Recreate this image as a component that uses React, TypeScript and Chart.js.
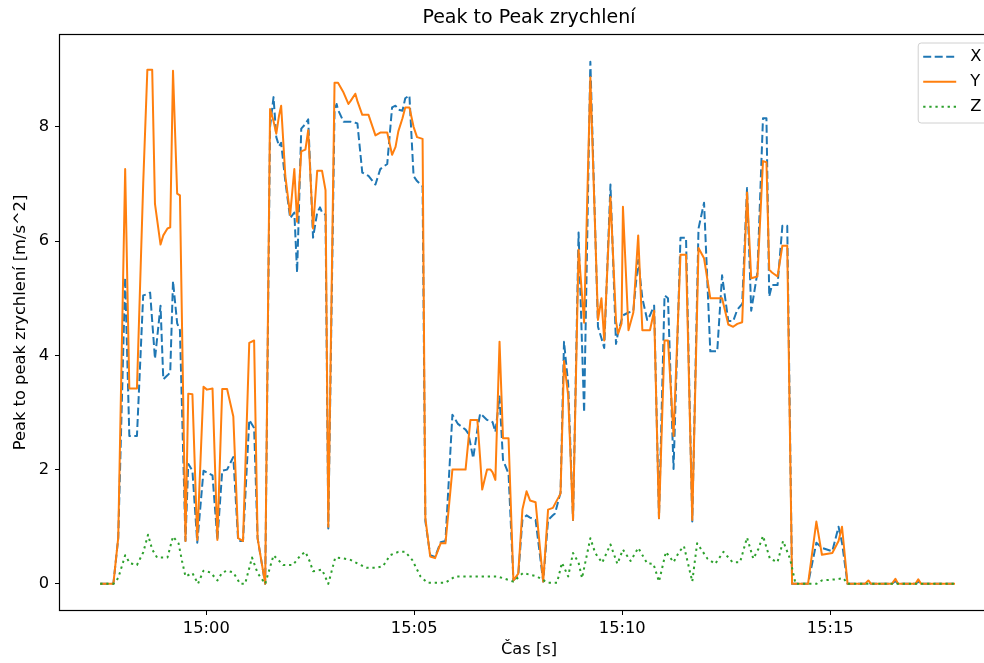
import React, { useEffect, useRef } from "react";
import { Chart, registerables } from "chart.js";

Chart.register(...registerables);

// ---- data (time in seconds relative to 15:00:00) ----
const timeSec = [
  -153, -134, -127, -117, -111, -100, -91, -85, -81, -78, -74, -66, -62, -56, -52, -48, -42, -38,
  -30, -26, -20, -13, -4, 1, 9, 16, 23, 30, 39, 46, 53, 62, 69, 74, 85,
  92, 97, 101, 105, 108, 114, 121, 127, 131, 137, 143, 147, 154, 160, 164, 167, 172, 176,
  185, 188, 190, 198, 205, 208, 215, 218, 225, 234, 244, 251, 261, 268, 273, 277, 283, 287, 293,
  299, 304, 312, 316, 323, 330, 338, 345, 355, 363, 374, 378, 381, 385, 391, 395, 398, 405, 410,
  413, 417, 423, 428, 436, 443, 450, 456, 462, 467, 475, 486, 493, 500, 503, 511, 516, 522, 529,
  537, 545, 554, 565, 570, 574, 583, 591, 594, 599, 601, 609, 616, 623, 629, 636, 640, 646, 653,
  661, 666, 674, 684, 692, 701, 710, 718, 727, 737, 744, 753, 760, 766, 773, 780, 786, 795, 803,
  808, 812, 816, 824, 831, 838, 845, 868, 880, 888, 903, 912, 917, 925, 950, 955, 959, 989, 994,
  998, 1023, 1027, 1031, 1080,
];

const xVals = [
  0, 0, 0.8, 5.36, 2.59, 2.59, 5.05, 5.07, 5.1, 4.6, 3.94, 4.87, 3.58, 3.65, 3.7, 5.3, 4.56, 4.44,
  0.75, 2.1, 1.98, 0.72, 1.98, 1.95, 1.9, 0.77, 1.98, 2.0, 2.22, 0.75, 0.75, 2.87, 2.73, 0.8, 0,
  8.0, 8.52, 7.82, 7.66, 7.72, 7.05, 6.4, 6.5, 5.45, 7.97, 8.05, 8.13, 6.06, 6.5, 6.59, 6.5, 6.46, 0.97,
  8.3, 8.4, 8.3, 8.09, 8.09, 8.09, 8.07, 8.06, 7.2, 7.14, 6.99, 7.26, 7.35, 8.34, 8.37, 8.3, 8.28, 8.5, 8.55,
  7.14, 7.05, 6.96, 1.1, 0.5, 0.47, 0.73, 0.75, 2.96, 2.8, 2.7, 2.63, 2.45, 2.2, 2.7, 2.98, 2.95, 2.87, 2.85,
  2.83, 2.66, 3.28, 2.17, 1.93, 0.06, 0.15, 1.12, 1.2, 1.16, 1.12, 0.04, 1.12, 1.2, 1.23, 1.6, 4.24, 3.5, 1.12,
  6.15, 3.0, 9.14, 4.5, 4.3, 4.13, 6.99, 4.2, 4.4, 4.62, 4.7, 4.75, 4.78, 5.67, 5.0, 4.62, 4.7, 4.87, 1.15,
  5.05, 5.0, 2.01, 6.06, 6.06, 1.09, 6.22, 6.67, 4.07, 4.07, 5.4, 4.6, 4.6, 4.8, 4.9, 6.93, 4.78, 5.45, 8.15,
  8.15, 5.03, 5.23, 5.23, 6.27, 6.27, 0, 0, 0.72, 0.63, 0.57, 1.0, 0.72, 0, 0, 0.02, 0, 0, 0.05,
  0, 0, 0.04, 0, 0,
];

const yVals = [
  0, 0, 0.81, 7.26, 3.42, 3.42, 7.0, 9.0, 9.0, 9.0, 6.65, 5.94, 6.1, 6.22, 6.24, 8.98, 6.83, 6.8,
  0.75, 3.33, 3.32, 0.77, 3.45, 3.4, 3.42, 0.77, 3.41, 3.41, 2.93, 0.8, 0.75, 4.22, 4.26, 0.8, 0,
  8.31, 8.1, 7.88, 8.2, 8.37, 7.14, 6.46, 7.26, 6.34, 7.57, 7.6, 7.94, 6.22, 7.23, 7.23, 7.23, 6.89, 1.0,
  8.77, 8.77, 8.77, 8.6, 8.4, 8.45, 8.58, 8.45, 8.21, 8.21, 7.85, 7.9, 7.9, 7.51, 7.65, 7.92, 8.15, 8.34, 8.34,
  8.0, 7.82, 7.79, 1.15, 0.48, 0.45, 0.71, 0.71, 2.0, 2.0, 2.0, 2.5, 2.87, 2.87, 2.87, 2.2, 1.65, 2.0, 2.0,
  1.95, 1.82, 4.24, 2.55, 2.55, 0.06, 0.18, 1.3, 1.62, 1.46, 1.43, 0.04, 1.3, 1.33, 1.4, 1.58, 3.9, 3.3, 1.12,
  5.85, 4.57, 8.87, 4.62, 5.0, 4.26, 6.77, 4.6, 4.38, 4.56, 6.6, 4.44, 4.75, 6.1, 4.44, 4.44, 4.44, 4.78, 1.15,
  4.26, 4.26, 2.59, 5.76, 5.76, 1.12, 5.88, 5.7, 5.0, 5.0, 5.0, 4.54, 4.5, 4.55, 4.58, 6.85, 5.35, 5.38, 7.4,
  7.38, 5.5, 5.45, 5.38, 5.92, 5.92, 0, 0, 1.09, 0.51, 0.54, 0.75, 1.0, 0, 0, 0.06, 0, 0, 0.09,
  0, 0, 0.08, 0, 0,
];

const zTimeSec = [
  -153, -134, -127, -117, -110, -100, -91, -84, -78, -71, -56, -48, -40, -35, -30, -20, -12, -4, 6,
  16, 23, 30, 39, 49, 56, 66, 74, 85, 97, 111, 125, 136, 143, 149, 154, 167, 176, 186, 196, 208,
  219, 232, 244, 255, 265, 277, 287, 297, 309, 319, 345, 359, 395, 420, 443, 457, 477, 492, 506,
  513, 522, 529, 537, 542, 554, 561, 571, 583, 593, 601, 612, 623, 636, 645, 653, 663, 674, 682,
  689, 701, 708, 723, 734, 746, 759, 770, 780, 789, 796, 803, 813, 824, 832, 842, 850, 880, 888,
  909, 919, 925, 1080,
];

const zVals = [
  0, 0, 0.1, 0.5, 0.36, 0.33, 0.55, 0.86, 0.6, 0.46, 0.46, 0.83, 0.71, 0.4, 0.13, 0.19, 0, 0.23, 0.2,
  0.06, 0.2, 0.23, 0.2, 0, 0, 0.46, 0.19, 0, 0.5, 0.33, 0.33, 0.5, 0.56, 0.4, 0.22, 0.25, 0, 0.46, 0.45, 0.42,
  0.35, 0.28, 0.28, 0.31, 0.5, 0.56, 0.56, 0.42, 0.13, 0.02, 0.02, 0.13, 0.13, 0.13, 0.04, 0.19, 0.13, 0.02, 0.02,
  0.37, 0.13, 0.54, 0.37, 0.1, 0.8, 0.54, 0.37, 0.69, 0.35, 0.6, 0.4, 0.63, 0.36, 0.35, 0.04, 0.56, 0.38, 0.56,
  0.66, 0.04, 0.71, 0.44, 0.35, 0.56, 0.38, 0.38, 0.81, 0.44, 0.6, 0.84, 0.44, 0.38, 0.75, 0.44, 0, 0, 0.06,
  0.08, 0.1, 0, 0,
];

const xTickSec = [0, 300, 600, 900];
const yTicks = [0, 2, 4, 6, 8];
const seriesNames = ["X", "Y", "Z"];
const seriesColors = ["#1f77b4", "#ff7f0e", "#2ca02c"];
const seriesDashes: number[][] = [[8, 3.5], [], [2.3, 3.8]];
const chartTitle = "Peak to Peak zrychlení";

const FONT = "DejaVu Sans";
const BASE = 16.3;

function fmtTime(sec: number): string {
  const total = 15 * 60 + Math.round(sec / 60);
  const h = Math.floor(total / 60);
  const m = total % 60;
  return `${h}:${String(m).padStart(2, "0")}`;
}

const framePlugin = {
  id: "frame",
  afterDraw(chart: any) {
    const { ctx, chartArea: ca } = chart;
    ctx.save();
    ctx.strokeStyle = "#000";
    ctx.lineWidth = 1.2;
    ctx.strokeRect(ca.left - 0.5, ca.top - 0.5, ca.right - ca.left + 1, ca.bottom - ca.top + 1);
    // title centred over the axes area
    ctx.fillStyle = "#000";
    ctx.font = `19px "${FONT}"`;
    ctx.textAlign = "center";
    ctx.textBaseline = "middle";
    ctx.fillText(chartTitle, (ca.left + ca.right) / 2, 18);
    ctx.restore();
  },
};

const legendPlugin = {
  id: "mplLegend",
  afterDraw(chart: any) {
    const { ctx, chartArea: ca } = chart;
    const right = ca.right - 7.8;
    const left = right - 72;
    const top = ca.top + 8;
    const height = 80;
    const r = 3;
    ctx.save();
    ctx.beginPath();
    ctx.moveTo(left + r, top);
    ctx.lineTo(right - r, top);
    ctx.quadraticCurveTo(right, top, right, top + r);
    ctx.lineTo(right, top + height - r);
    ctx.quadraticCurveTo(right, top + height, right - r, top + height);
    ctx.lineTo(left + r, top + height);
    ctx.quadraticCurveTo(left, top + height, left, top + height - r);
    ctx.lineTo(left, top + r);
    ctx.quadraticCurveTo(left, top, left + r, top);
    ctx.closePath();
    ctx.fillStyle = "rgba(255,255,255,0.8)";
    ctx.fill();
    ctx.strokeStyle = "#d0d0d0";
    ctx.lineWidth = 1;
    ctx.stroke();
    seriesNames.forEach((name, i) => {
      const y = top + 13.7 + i * 25;
      ctx.beginPath();
      ctx.setLineDash(seriesDashes[i]);
      ctx.strokeStyle = seriesColors[i];
      ctx.lineWidth = 2;
      ctx.moveTo(left + 5, y);
      ctx.lineTo(left + 38, y);
      ctx.stroke();
      ctx.setLineDash([]);
      ctx.fillStyle = "#000";
      ctx.font = `${BASE}px "${FONT}"`;
      ctx.textBaseline = "middle";
      ctx.textAlign = "left";
      ctx.fillText(name, left + 52, y);
    });
    ctx.restore();
  },
};

export default function App() {
  const canvasRef = useRef<HTMLCanvasElement | null>(null);

  useEffect(() => {
    if (!canvasRef.current) return;
    Chart.defaults.font.family = FONT;
    Chart.defaults.color = "#000";

    const xy = (ts: number[], vs: number[]) => ts.map((t, i) => ({ x: t, y: vs[i] }));
    const seriesData = [xy(timeSec, xVals), xy(timeSec, yVals), xy(zTimeSec, zVals)];

    const chart = new Chart(canvasRef.current, {
      type: "line",
      data: {
        datasets: seriesNames.map((name, i) => ({
          label: name,
          data: seriesData[i],
          borderColor: seriesColors[i],
          backgroundColor: seriesColors[i],
          borderWidth: 2,
          borderDash: seriesDashes[i],
          borderCapStyle: "butt",
          borderJoinStyle: "round",
          pointRadius: 0,
          pointHoverRadius: 0,
          fill: false,
          tension: 0,
          order: 3 - i,
        })),
      },
      options: {
        responsive: false,
        animation: false,
        devicePixelRatio: 1,
        layout: { padding: { left: 0, right: 12, top: 35, bottom: 0 } },
        plugins: {
          legend: { display: false },
          tooltip: { enabled: false },
          title: { display: false },
        },
        scales: {
          x: {
            type: "linear",
            min: -211,
            max: 1142,
            afterBuildTicks: (s: any) => {
              s.ticks = xTickSec.map((v) => ({ value: v }));
            },
            afterFit: (s: any) => {
              s.height = 53;
            },
            ticks: {
              callback: (v: any) => fmtTime(Number(v)),
              color: "#000",
              font: { size: BASE, family: FONT },
              padding: 4,
              maxRotation: 0,
              autoSkip: false,
            },
            grid: {
              display: true,
              drawOnChartArea: false,
              drawTicks: true,
              tickLength: 5,
              color: "#000",
              lineWidth: 1,
            },
            border: { display: false },
            title: {
              display: true,
              text: "Čas [s]",
              color: "#000",
              font: { size: BASE, family: FONT },
              padding: { top: 0, bottom: 3 },
            },
          },
          y: {
            type: "linear",
            min: -0.4575,
            max: 9.6075,
            afterBuildTicks: (s: any) => {
              s.ticks = yTicks.map((v) => ({ value: v }));
            },
            afterFit: (s: any) => {
              s.width = 60;
            },
            ticks: {
              callback: (v: any) => String(v),
              color: "#000",
              font: { size: BASE, family: FONT },
              padding: 6,
            },
            grid: {
              display: true,
              drawOnChartArea: false,
              drawTicks: true,
              tickLength: 5,
              color: "#000",
              lineWidth: 1,
            },
            border: { display: false },
            title: {
              display: true,
              text: "Peak to peak zrychlení [m/s^2]",
              color: "#000",
              font: { size: BASE, family: FONT },
              padding: { top: 10.5, bottom: 0 },
            },
          },
        },
      } as any,
      plugins: [framePlugin, legendPlugin],
    });

    return () => chart.destroy();
  }, []);

  return (
    <div
      style={{
        position: "absolute",
        left: 0,
        top: 0,
        width: 984,
        height: 663,
        overflow: "hidden",
        background: "#fff",
      }}
    >
      <canvas ref={canvasRef} width={1010} height={663} style={{ display: "block" }} />
    </div>
  );
}
